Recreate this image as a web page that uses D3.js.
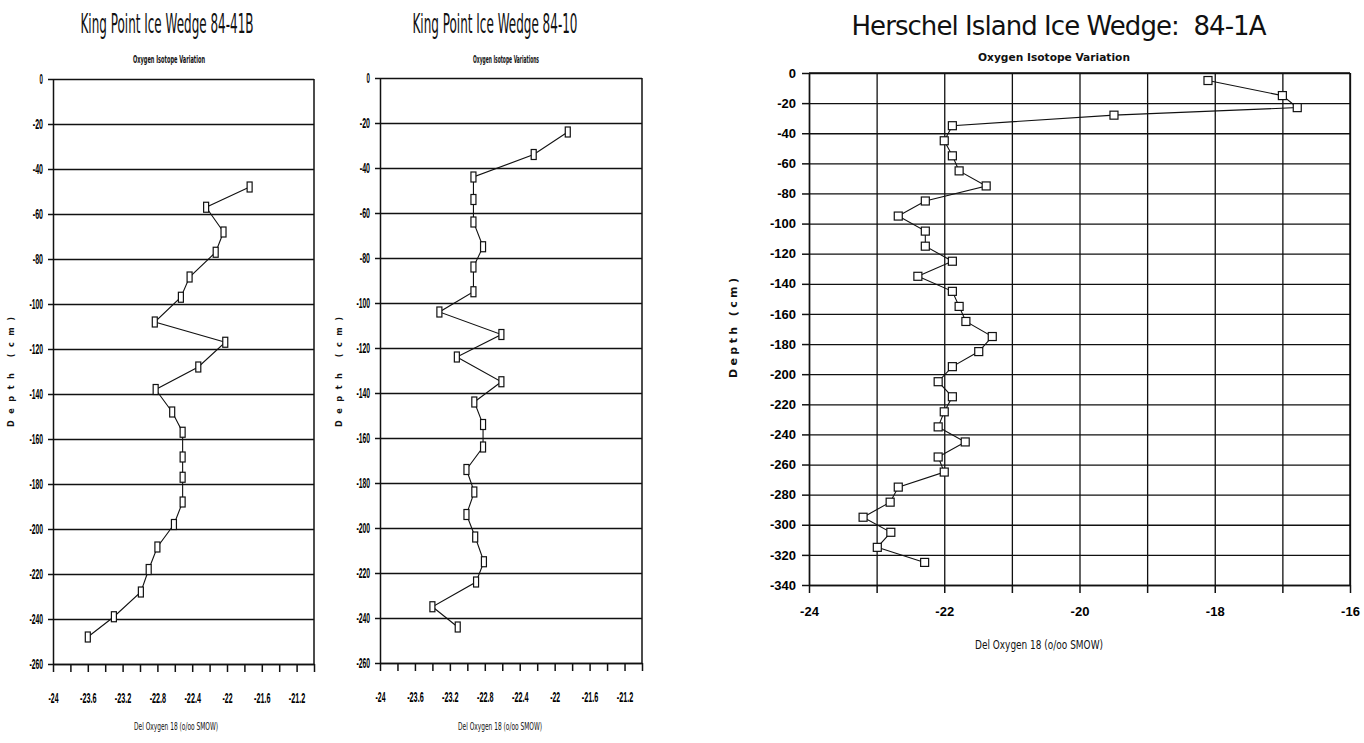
<!DOCTYPE html>
<html>
<head>
<meta charset="utf-8">
<script src="https://cdn.jsdelivr.net/npm/d3@7"></script>
<style>
body { margin: 0; background: #fff; }
svg { display: block; }
.grid line { stroke: #111; stroke-width: 1.3; }
.grid path { display: none; }
.axis path, .axis line { stroke: #111; stroke-width: 1.5; }
.frame { stroke: #111; stroke-width: 1.5; }
.line { fill: none; stroke: #111; stroke-width: 1.1; }
.mark { fill: #fff; stroke: #111; stroke-width: 1.2; }
.narrow { font-family: "DejaVu Sans Condensed", "Liberation Sans Narrow", sans-serif; fill: #111; }
.round { font-family: "DejaVu Sans", sans-serif; fill: #111; }
text { white-space: pre; }
</style>
</head>
<body>
<svg id="chart" width="1364" height="743"></svg>
<script>

// King Point 84-41B
var kp41bDepth = [-48,-57,-68,-77,-88,-97,-108,-117,-128,-138,-148,-157,-168,-177,-188,-198,-208,-218,-228,-239,-248]
var kp41bDel = [-21.74,-22.24,-22.04,-22.13,-22.43,-22.53,-22.83,-22.02,-22.33,-22.82,-22.63,-22.51,-22.51,-22.51,-22.51,-22.61,-22.80,-22.90,-22.99,-23.30,-23.60]

// King Point 84-10
var kp10Depth = [-24,-34,-44,-54,-64,-75,-84,-95,-104,-114,-124,-135,-144,-154,-164,-174,-184,-194,-204,-215,-224,-235,-244]
var kp10Del = [-21.85,-22.24,-22.93,-22.93,-22.93,-22.82,-22.93,-22.93,-23.32,-22.61,-23.12,-22.61,-22.92,-22.82,-22.82,-23.01,-22.92,-23.01,-22.91,-22.81,-22.90,-23.40,-23.11]

// Herschel Island 84-1A
var hiDepth = [-5,-15,-23,-28,-35,-45,-55,-65,-75,-85,-95,-105,-115,-125,-135,-145,-155,-165,-175,-185,-195,-205,-215,-225,-235,-245,-255,-265,-275,-285,-295,-305,-315,-325]
var hiDel = [-18.10,-17.00,-16.78,-19.49,-21.88,-22.00,-21.88,-21.78,-21.38,-22.28,-22.68,-22.28,-22.28,-21.88,-22.39,-21.88,-21.78,-21.68,-21.29,-21.49,-21.88,-22.09,-21.88,-22.00,-22.09,-21.69,-22.09,-22.00,-22.68,-22.80,-23.20,-22.79,-22.99,-22.29]

var kingDepthTicks = [0,-20,-40,-60,-80,-100,-120,-140,-160,-180,-200,-220,-240,-260]
var kingDelTicks = [-24,-23.6,-23.2,-22.8,-22.4,-22,-21.6,-21.2]
var kingDelMinor = [-24,-23.8,-23.6,-23.4,-23.2,-23,-22.8,-22.6,-22.4,-22.2,-22,-21.8,-21.6,-21.4,-21.2,-21]

var hiDepthTicks = [0,-20,-40,-60,-80,-100,-120,-140,-160,-180,-200,-220,-240,-260,-280,-300,-320,-340]
var hiDelTicks = [-24,-22,-20,-18,-16]
var hiDelGrid = [-24,-23,-22,-21,-20,-19,-18,-17,-16]

var svg = d3.select("#chart")

var fmt = function(d){ return String(d) }

// squash text to a width per character
var squeeze = function(perChar){
    return function(selection){
        selection.each(function(){
            var t = d3.select(this)
            if (t.text().length == 0) return
            t.attr("textLength", t.text().length * perChar)
                .attr("lengthAdjust", "spacingAndGlyphs")
        })
    }
}

var label = function(g, txt, x, y, size, len, opts){
    opts = opts || {}
    var t = g.append("text")
        .attr("x", x).attr("y", y)
        .attr("text-anchor", "middle")
        .style("font-size", size + "px")
        .style("font-weight", opts.bold ? "bold" : "normal")
        .attr("textLength", len)
        .attr("lengthAdjust", opts.adjust || "spacingAndGlyphs")
        .text(txt)
    if (opts.rotate) t.attr("transform", "rotate(-90," + x + "," + y + ")")
    return t
}

var kingPanel = function(box, del, depth, texts){

    var x = d3.scaleLinear().domain([-24, -21]).range([box.left, box.right])
    var y = d3.scaleLinear().domain([0, -260]).range([box.top, box.bottom])
    var w = box.right - box.left

    var g = svg.append("g").attr("class", "narrow")

    g.append("g")
        .attr("class", "grid")
        .attr("transform", "translate(" + box.left + ",0)")
        .call(d3.axisLeft(y)
            .tickValues(kingDepthTicks)
            .tickSize(-w)
            .tickFormat("")
        )

    var ya = g.append("g")
        .attr("class", "axis")
        .attr("transform", "translate(" + box.left + ",0)")
        .call(d3.axisLeft(y)
            .tickValues(kingDepthTicks)
            .tickSize(5)
            .tickSizeOuter(0)
            .tickPadding(5)
            .tickFormat(fmt)
        )
    ya.selectAll("text")
        .style("font-size", "14px").style("font-weight", "bold")
        .call(squeeze(3.4))

    var xa = g.append("g")
        .attr("class", "axis")
        .attr("transform", "translate(0," + box.bottom + ")")
        .call(d3.axisBottom(x)
            .tickValues(kingDelMinor)
            .tickSize(8)
            .tickSizeOuter(0)
            .tickPadding(21)
            .tickFormat(function(d){ return kingDelTicks.indexOf(d) >= 0 ? fmt(d) : "" })
        )
    xa.selectAll("text")
        .style("font-size", "14px").style("font-weight", "bold")
        .call(squeeze(3.3))

    g.append("line")
        .attr("class", "frame")
        .attr("x1", x(-21)).attr("x2", x(-21))
        .attr("y1", y(0)).attr("y2", y(-260))

    var line = d3.line()
        .x(function(d, i){ return x(del[i]) })
        .y(function(d){ return y(d) })

    g.append("path")
        .datum(depth)
        .attr("class", "line")
        .attr("d", line)

    g.selectAll(".mark")
        .data(depth)
        .enter().append("rect")
        .attr("class", "mark")
        .attr("x", function(d, i){ return x(del[i]) - 2.5 })
        .attr("y", function(d){ return y(d) - 5 })
        .attr("width", 5)
        .attr("height", 10)

    label(g, texts.title, texts.titleX, 33, 27, texts.titleLen)
    label(g, texts.sub, texts.subX, 63, 10.5, texts.subLen, {bold: true})
    label(g, "Del Oxygen 18 (o/oo SMOW)", texts.xlabX, 730, 10.5, 84)
    label(g, "D e p t h   ( c m )", texts.ylabX, 372, 9, 110, {bold: true, rotate: true, adjust: "spacing"})
}

var herschelPanel = function(box){

    var x = d3.scaleLinear().domain([-24, -16]).range([box.left, box.right])
    var y = d3.scaleLinear().domain([0, -340]).range([box.top, box.bottom])
    var w = box.right - box.left
    var h = box.bottom - box.top

    var g = svg.append("g").attr("class", "round")

    g.append("g")
        .attr("class", "grid")
        .attr("transform", "translate(" + box.left + ",0)")
        .call(d3.axisLeft(y)
            .tickValues(hiDepthTicks)
            .tickSize(-w)
            .tickFormat("")
        )

    g.append("g")
        .attr("class", "grid")
        .attr("transform", "translate(0," + box.bottom + ")")
        .call(d3.axisBottom(x)
            .tickValues(hiDelGrid)
            .tickSize(-h)
            .tickFormat("")
        )

    var ya = g.append("g")
        .attr("class", "axis")
        .attr("transform", "translate(" + box.left + ",0)")
        .call(d3.axisLeft(y)
            .tickValues(hiDepthTicks)
            .tickSize(7)
            .tickSizeOuter(0)
            .tickPadding(6)
            .tickFormat(fmt)
        )
    ya.selectAll("text").style("font-size", "13px").style("font-weight", "bold")

    var xa = g.append("g")
        .attr("class", "axis")
        .attr("transform", "translate(0," + box.bottom + ")")
        .call(d3.axisBottom(x)
            .tickValues(hiDelGrid)
            .tickSize(8)
            .tickSizeOuter(0)
            .tickPadding(14)
            .tickFormat(function(d){ return hiDelTicks.indexOf(d) >= 0 ? fmt(d) : "" })
        )
    xa.selectAll("text").style("font-size", "13px").style("font-weight", "bold")

    g.append("line")
        .attr("class", "frame")
        .attr("x1", x(-24)).attr("x2", x(-16))
        .attr("y1", y(0)).attr("y2", y(0))
    g.append("line")
        .attr("class", "frame")
        .attr("x1", x(-16)).attr("x2", x(-16))
        .attr("y1", y(0)).attr("y2", y(-340))

    var line = d3.line()
        .x(function(d, i){ return x(hiDel[i]) })
        .y(function(d){ return y(d) })

    g.append("path")
        .datum(hiDepth)
        .attr("class", "line")
        .attr("d", line)

    g.selectAll(".mark")
        .data(hiDepth)
        .enter().append("rect")
        .attr("class", "mark")
        .attr("x", function(d, i){ return x(hiDel[i]) - 4 })
        .attr("y", function(d){ return y(d) - 4 })
        .attr("width", 8)
        .attr("height", 8)

    label(g, "Herschel Island Ice Wedge:  84-1A", 1059, 35, 26, 415, {adjust: "spacing"})
    label(g, "Oxygen Isotope Variation", 1054, 61, 11, 152, {bold: true})
    label(g, "Del Oxygen 18 (o/oo SMOW)", 1039, 649, 11.5, 128)
    label(g, "D e p t h   ( c m )", 737, 328, 11, 100, {bold: true, rotate: true, adjust: "spacing"})
}

kingPanel({left: 53, right: 314, top: 79, bottom: 664}, kp41bDel, kp41bDepth, {
    title: "King Point Ice Wedge 84-41B", titleX: 167, titleLen: 173,
    sub: "Oxygen Isotope Variation", subX: 169, subLen: 72,
    xlabX: 176, ylabX: 14
})

kingPanel({left: 380, right: 642, top: 78, bottom: 663}, kp10Del, kp10Depth, {
    title: "King Point Ice Wedge 84-10", titleX: 495, titleLen: 165,
    sub: "Oxygen Isotope Variations", subX: 506, subLen: 66,
    xlabX: 500, ylabX: 342
})

herschelPanel({left: 809, right: 1350, top: 73, bottom: 585})

</script>
</body>
</html>
